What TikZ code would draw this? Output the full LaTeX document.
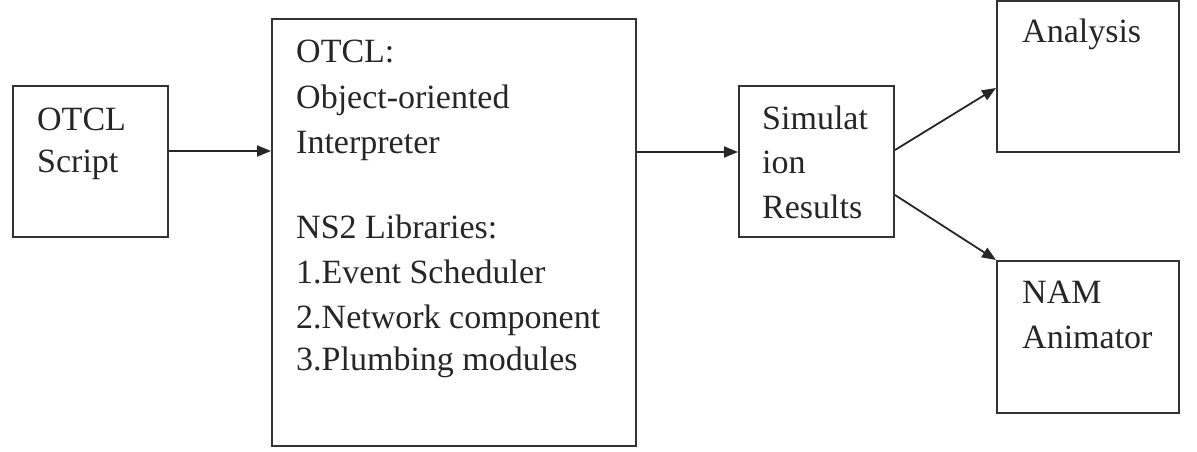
\documentclass[tikz,border=0pt]{standalone}
\usepackage{fontspec}
\setmainfont{Liberation Serif}
\usetikzlibrary{arrows.meta}
\tikzset{
  box/.style={draw=black!80, line width=2pt, rectangle, inner sep=0pt},
  txt/.style={anchor=base west, inner sep=0pt, font=\fontsize{34}{40}\selectfont, text=black!85},
  arr/.style={draw=black!85, line width=1.8pt, -{Triangle[length=14pt,width=11pt]}}
}
\begin{document}
\begin{tikzpicture}[x=1pt,y=-1pt]
\useasboundingbox (0,0) rectangle (1197,452);
% boxes
\node[box, minimum width=155pt, minimum height=151pt] (b1) at (90.4,161.5) {};
\node[box, minimum width=364pt, minimum height=427pt] (b2) at (454,232.5) {};
\node[box, minimum width=155pt, minimum height=151pt] (b3) at (816.5,161.5) {};
\node[box, minimum width=182pt, minimum height=151pt] (b4) at (1088,76.5) {};
\node[box, minimum width=182pt, minimum height=152pt] (b5) at (1088,337) {};
% texts
\node[txt] (t1a) at (37,130) {OTCL};
\node[txt] (t1b) at (37,172) {Script};
\node[txt] (t2a) at (296,63) {OTCL:};
\node[txt] (t2b) at (296,108) {Object-oriented};
\node[txt] (t2c) at (296,153) {Interpreter};
\node[txt] (t2d) at (296,238) {NS2 Libraries:};
\node[txt] (t2e) at (296,283) {1.Event Scheduler};
\node[txt] (t2f) at (296,328) {2.Network component};
\node[txt] (t2g) at (296,370) {3.Plumbing modules};
\node[txt] (t3a) at (762,129) {Simulat};
\node[txt] (t3b) at (762,173) {ion};
\node[txt] (t3c) at (762,218) {Results};
\node[txt] (t4a) at (1022,43) {Analysis};
\node[txt] (t5a) at (1022,303) {NAM};
\node[txt] (t5b) at (1022,348) {Animator};
% connectors
\draw[arr] (b1.east |- 0,151) -- (b2.west |- 0,151);
\draw[arr] (b2.east |- 0,152) -- (b3.west |- 0,152);
\draw[arr] (b3.east |- 0,150) -- (b4.west |- 0,88);
\draw[arr] (b3.east |- 0,195) -- (b5.north west);
\end{tikzpicture}
\end{document}
